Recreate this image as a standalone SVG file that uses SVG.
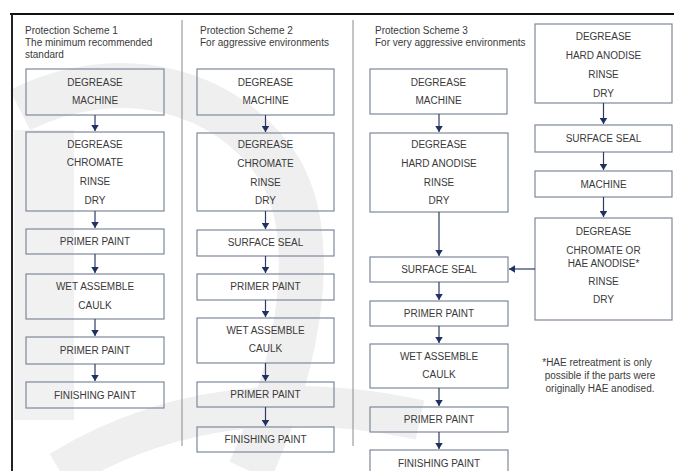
<svg xmlns="http://www.w3.org/2000/svg" width="674" height="471" viewBox="0 0 674 471">
<style>
.box{fill:none;stroke:#7d889c;stroke-width:1.2}
.t{font-family:"Liberation Sans",Arial,sans-serif;font-size:10px;fill:#3a3a3a;text-anchor:middle}
.h{font-family:"Liberation Sans",Arial,sans-serif;font-size:10px;fill:#3a3a3a}
.c{stroke:#2b3d66;stroke-width:1.2;fill:none;marker-end:url(#ah)}
.div{stroke:#8a8a8a;stroke-width:1}
</style>
<defs>
<marker id="ah" viewBox="0 0 8 10" refX="8" refY="5" markerWidth="6" markerHeight="8" markerUnits="userSpaceOnUse" orient="auto">
<path d="M0,0 L8,5 L0,10 Z" fill="#1f3160"/>
</marker>
</defs>
<rect width="674" height="471" fill="#ffffff"/>
<g id="watermark" fill="none" stroke="#efefef">
<path d="M20,110 C120,60 230,90 280,170 C320,240 300,360 250,471" stroke-width="45"/>
<path d="M60,471 C160,410 280,390 420,420" stroke-width="40"/>
<rect x="14" y="130" width="60" height="290" fill="#f1f1f1" stroke="none"/>
</g>
<g id="frame">
<line x1="10" y1="14" x2="674" y2="14" stroke="#111" stroke-width="2"/>
<line x1="12" y1="14" x2="12" y2="471" stroke="#222" stroke-width="2"/>
<line class="div" x1="182" y1="20" x2="182" y2="446"/>
<line class="div" x1="353" y1="20" x2="353" y2="446"/>
</g>
<g id="headers">
<text class="h" x="25" y="34">Protection Scheme 1</text>
<text class="h" x="25" y="46">The minimum recommended</text>
<text class="h" x="25" y="58">standard</text>
<text class="h" x="200" y="34">Protection Scheme 2</text>
<text class="h" x="200" y="46">For aggressive environments</text>
<text class="h" x="375" y="34">Protection Scheme 3</text>
<text class="h" x="375" y="46">For very aggressive environments</text>
</g>
<g id="s1n1"><rect class="box" x="26" y="69" width="138" height="46"/><text class="t" x="95" y="86">DEGREASE</text><text class="t" x="95" y="104">MACHINE</text></g>
<g id="s1n2"><rect class="box" x="26" y="132" width="138" height="79"/><text class="t" x="95" y="148">DEGREASE</text><text class="t" x="95" y="166">CHROMATE</text><text class="t" x="95" y="185">RINSE</text><text class="t" x="95" y="204">DRY</text></g>
<g id="s1n3"><rect class="box" x="26" y="229" width="138" height="25"/><text class="t" x="95" y="245">PRIMER PAINT</text></g>
<g id="s1n4"><rect class="box" x="26" y="274" width="138" height="45"/><text class="t" x="95" y="290">WET ASSEMBLE</text><text class="t" x="95" y="309">CAULK</text></g>
<g id="s1n5"><rect class="box" x="26" y="337" width="138" height="27"/><text class="t" x="95" y="354">PRIMER PAINT</text></g>
<g id="s1n6"><rect class="box" x="26" y="382" width="138" height="26"/><text class="t" x="95" y="399">FINISHING PAINT</text></g>

<g id="s2n1"><rect class="box" x="197" y="69" width="137" height="46"/><text class="t" x="265.5" y="86">DEGREASE</text><text class="t" x="265.5" y="104">MACHINE</text></g>
<g id="s2n2"><rect class="box" x="197" y="133" width="137" height="78"/><text class="t" x="265.5" y="148">DEGREASE</text><text class="t" x="265.5" y="167">CHROMATE</text><text class="t" x="265.5" y="186">RINSE</text><text class="t" x="265.5" y="204">DRY</text></g>
<g id="s2n3"><rect class="box" x="197" y="230" width="137" height="26"/><text class="t" x="265.5" y="246">SURFACE SEAL</text></g>
<g id="s2n4"><rect class="box" x="197" y="274" width="137" height="26"/><text class="t" x="265.5" y="290">PRIMER PAINT</text></g>
<g id="s2n5"><rect class="box" x="197" y="318" width="137" height="45"/><text class="t" x="265.5" y="334">WET ASSEMBLE</text><text class="t" x="265.5" y="352">CAULK</text></g>
<g id="s2n6"><rect class="box" x="197" y="382" width="137" height="25"/><text class="t" x="265.5" y="398">PRIMER PAINT</text></g>
<g id="s2n7"><rect class="box" x="197" y="427" width="137" height="25"/><text class="t" x="265.5" y="443">FINISHING PAINT</text></g>

<g id="s3n1"><rect class="box" x="370" y="69" width="137" height="45"/><text class="t" x="438.5" y="86">DEGREASE</text><text class="t" x="438.5" y="104">MACHINE</text></g>
<g id="s3n2"><rect class="box" x="370" y="133" width="138" height="79"/><text class="t" x="439" y="148">DEGREASE</text><text class="t" x="439" y="167">HARD ANODISE</text><text class="t" x="439" y="186">RINSE</text><text class="t" x="439" y="204">DRY</text></g>
<g id="s3n3"><rect class="box" x="370" y="257" width="138" height="25"/><text class="t" x="439" y="273">SURFACE SEAL</text></g>
<g id="s3n4"><rect class="box" x="370" y="301" width="138" height="25"/><text class="t" x="439" y="317">PRIMER PAINT</text></g>
<g id="s3n5"><rect class="box" x="370" y="344" width="138" height="44"/><text class="t" x="439" y="360">WET ASSEMBLE</text><text class="t" x="439" y="378">CAULK</text></g>
<g id="s3n6"><rect class="box" x="370" y="407" width="138" height="25"/><text class="t" x="439" y="423">PRIMER PAINT</text></g>
<g id="s3n7"><rect class="box" x="370" y="450" width="138" height="25"/><text class="t" x="439" y="467">FINISHING PAINT</text></g>

<g id="r1"><rect class="box" x="535" y="24" width="137" height="79"/><text class="t" x="603.5" y="40">DEGREASE</text><text class="t" x="603.5" y="59">HARD ANODISE</text><text class="t" x="603.5" y="78">RINSE</text><text class="t" x="603.5" y="97">DRY</text></g>
<g id="r2"><rect class="box" x="535" y="125" width="137" height="27"/><text class="t" x="603.5" y="142">SURFACE SEAL</text></g>
<g id="r3"><rect class="box" x="535" y="171" width="137" height="26"/><text class="t" x="603.5" y="188">MACHINE</text></g>
<g id="r4"><rect class="box" x="535" y="218" width="137" height="102"/><text class="t" x="603.5" y="235">DEGREASE</text><text class="t" x="603.5" y="254">CHROMATE OR</text><text class="t" x="603.5" y="267">HAE ANODISE*</text><text class="t" x="603.5" y="285">RINSE</text><text class="t" x="603.5" y="303">DRY</text></g>
<g id="note"><text class="t" x="597" y="366">*HAE retreatment is only</text><text class="t" x="600" y="379">possible if the parts were</text><text class="t" x="600" y="392">originally HAE anodised.</text></g>

<g id="connectors">
<line class="c" x1="95" y1="115" x2="95" y2="131"/>
<line class="c" x1="95" y1="211" x2="95" y2="228"/>
<line class="c" x1="95" y1="254" x2="95" y2="273"/>
<line class="c" x1="95" y1="319" x2="95" y2="336"/>
<line class="c" x1="95" y1="364" x2="95" y2="381"/>
<line class="c" x1="265.5" y1="115" x2="265.5" y2="132"/>
<line class="c" x1="265.5" y1="211" x2="265.5" y2="229"/>
<line class="c" x1="265.5" y1="256" x2="265.5" y2="273"/>
<line class="c" x1="265.5" y1="300" x2="265.5" y2="317"/>
<line class="c" x1="265.5" y1="363" x2="265.5" y2="381"/>
<line class="c" x1="265.5" y1="407" x2="265.5" y2="426"/>
<line class="c" x1="439" y1="114" x2="439" y2="132"/>
<line class="c" x1="439" y1="212" x2="439" y2="256"/>
<line class="c" x1="439" y1="282" x2="439" y2="300"/>
<line class="c" x1="439" y1="326" x2="439" y2="343"/>
<line class="c" x1="439" y1="388" x2="439" y2="406"/>
<line class="c" x1="439" y1="432" x2="439" y2="449"/>
<line class="c" x1="603.5" y1="103" x2="603.5" y2="124"/>
<line class="c" x1="603.5" y1="152" x2="603.5" y2="170"/>
<line class="c" x1="603.5" y1="197" x2="603.5" y2="217"/>
<line class="c" x1="535" y1="269" x2="509" y2="269"/>
</g>
</svg>
